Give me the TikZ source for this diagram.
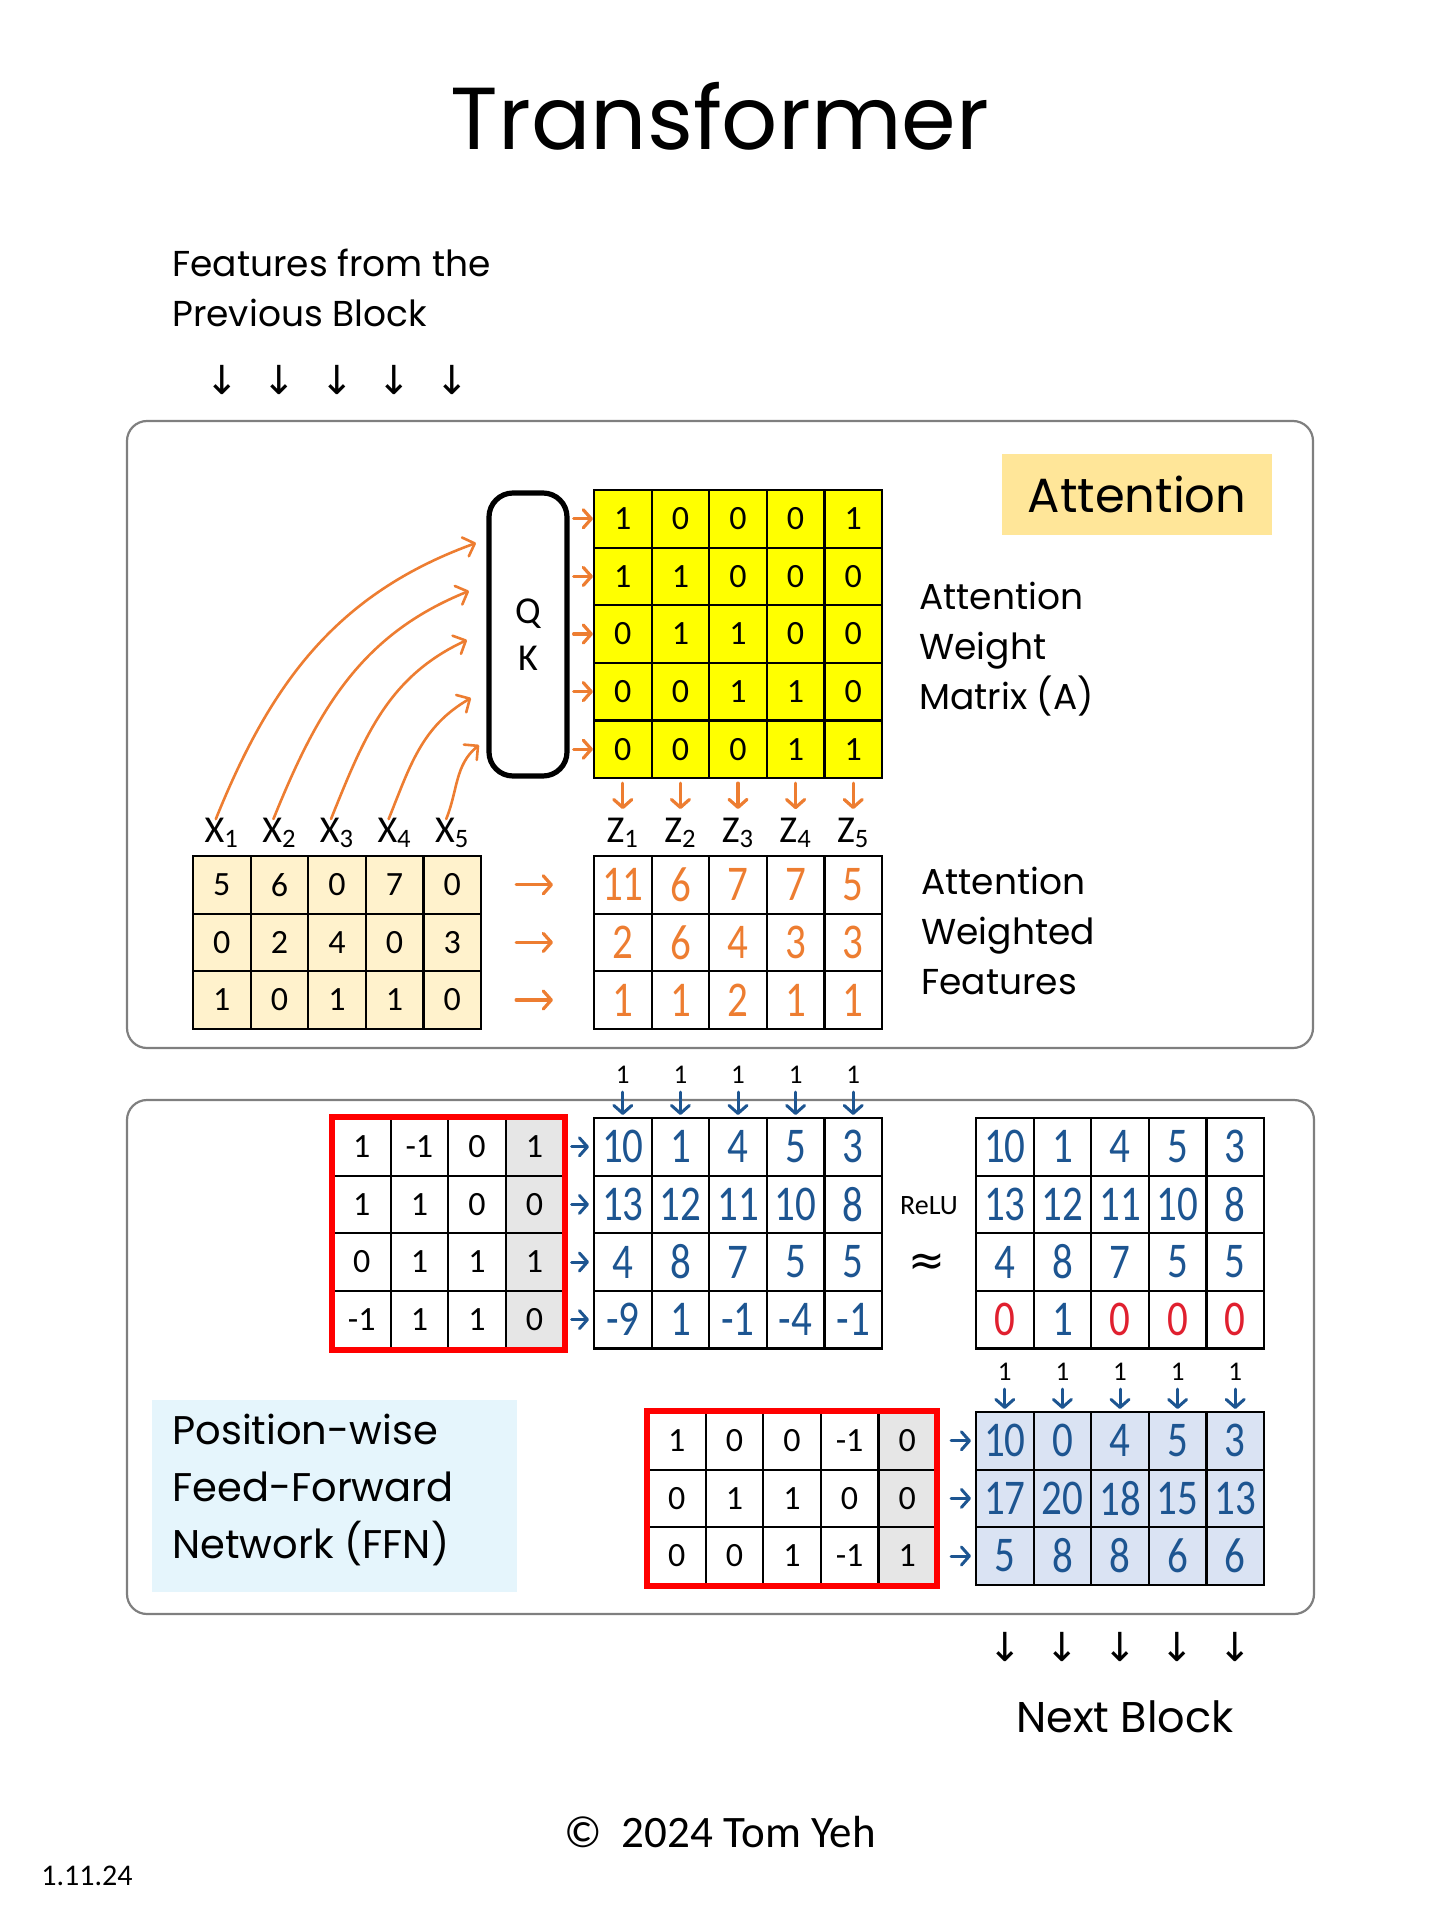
\documentclass[tikz,border=0pt]{standalone}
\usepackage{fontspec}
\setmainfont{Carlito}
\newfontfamily\handfont{Poppins}
\newfontfamily\penfont[FakeStretch=0.82]{Carlito}
\newfontfamily\symfont{DejaVu Sans}
\usetikzlibrary{arrows.meta}

\definecolor{hlyellow}{HTML}{FFFF00}
\definecolor{featbg}{HTML}{FFF2CC}
\definecolor{attnbg}{HTML}{FFE699}
\definecolor{ffnbg}{HTML}{E5F5FC}
\definecolor{outbg}{HTML}{DAE3F3}
\definecolor{biasgray}{HTML}{E6E6E6}
\definecolor{penorange}{HTML}{ED7D31}
\definecolor{penblue}{HTML}{1D5591}
\definecolor{penred}{HTML}{E0202F}
\definecolor{boxgray}{HTML}{7F7F7F}
\newcommand{\rz}{\textcolor{penred}{0}}

\tikzset{
  cell/.style={draw, line width=1.1pt, minimum width=28.8pt, minimum height=28.8pt,
    inner sep=0pt, font=\fontsize{17}{17}\selectfont},
  pen/.style={font=\penfont\fontsize{25}{25}\selectfont},
  lab/.style={font=\fontsize{19}{19}\selectfont},
  hand/.style={font=\handfont\fontsize{18}{25}\selectfont, align=left, inner sep=0pt},
  bias/.style={font=\fontsize{13.5}{13.5}\selectfont, inner sep=1pt},
  down/.style={font=\symfont\fontsize{20}{20}\selectfont},
  oarr/.style={penorange, line width=1.6pt, line cap=round,
    -{Straight Barb[length=4pt,width=9pt,round]}},
  carr/.style={penorange, line width=1.3pt, line cap=round,
    -{Straight Barb[length=5pt,width=10pt,round]}},
  barr/.style={penblue, line width=1.5pt, line cap=round,
    -{Straight Barb[length=4pt,width=9pt,round]}},
  panel/.style={draw=boxgray, line width=1.1pt, rounded corners=10pt},
}

\begin{document}
\begin{tikzpicture}[x=0.5pt,y=0.5pt]
  \useasboundingbox (0,0) rectangle (1440,-1920);

  \node[font=\handfont\fontsize{44}{44}\selectfont] (title) at (720,-116) {Transformer};
  \node[hand, anchor=west] (prev) at (172,-288) {Features from the\\Previous Block};
  \foreach \j in {1,...,5}
    \node[down] (in\j) at ({164.2+57.6*\j},-380) {↓};

  % attention panel
  \draw[panel] (127,-421) rectangle (1313,-1048);
  \node[fill=attnbg, minimum width=135pt, minimum height=40.5pt,
    font=\handfont\fontsize{24}{24}\selectfont] (attn) at (1137,-494.5) {Attention};
  \node[draw, line width=2.6pt, rounded corners=12pt, minimum width=39pt,
    minimum height=141.5pt, align=center, font=\fontsize{19}{23.5}\selectfont]
    (qk) at (528,-634.5) {Q\\K};

  \foreach \row [count=\i] in {{1,0,0,0,1},{1,1,0,0,0},{0,1,1,0,0},{0,0,1,1,0},{0,0,0,1,1}} {
    \foreach \v [count=\j] in \row {
      \node[cell, fill=hlyellow] (a-\i-\j) at ({565.2+57.6*\j},{-461.2-57.6*\i}) {\v};
    }
    \draw[oarr] ([xshift=2pt]qk.east |- a-\i-1) -- (a-\i-1.west);
  }
  \node[hand, anchor=west] (wlab) at (919,-649) {Attention\\Weight\\Matrix (A)};

  \foreach \row [count=\i] in {{5,6,0,7,0},{0,2,4,0,3},{1,0,1,1,0}} {
    \foreach \v [count=\j] in \row {
      \node[cell, fill=featbg] (x-\i-\j) at ({164.2+57.6*\j},{-827.2-57.6*\i}) {\v};
    }
  }
  \foreach \row [count=\i] in {{11,6,7,7,5},{2,6,4,3,3},{1,1,2,1,1}} {
    \foreach \v [count=\j] in \row {
      \node[cell, pen, text=penorange] (z-\i-\j) at ({565.2+57.6*\j},{-827.2-57.6*\i}) {\v};
    }
    \draw[oarr, shorten <=17pt, shorten >=20pt] (x-\i-5.east) -- (z-\i-1.west);
  }
  \foreach \j in {1,...,5} {
    \node[lab] (xl\j) at ({164.2+57.6*\j},-833) {X\textsubscript{\j}};
    \node[lab] (zl\j) at ({565.2+57.6*\j},-833) {Z\textsubscript{\j}};
    \draw[oarr, shorten <=2pt, shorten >=1pt] (a-5-\j.south) -- (zl\j.north);
  }
  \node[hand, anchor=west] (flab) at (921,-931) {Attention\\Weighted\\Features};

  % X to QK
  \coordinate (q1) at (476,-543);
  \coordinate (q2) at (469,-591);
  \coordinate (q3) at (467,-640);
  \coordinate (q4) at (471,-698);
  \coordinate (q5) at (479,-745);
  \foreach \j/\n in {1/200,2/202,3/205,4/210,5/220}
    \draw[carr] ([xshift=-3pt,yshift=-4pt]xl\j.north) to[out=68,in=\n] (q\j);

  % feed-forward panel
  \draw[panel] (127,-1100) rectangle (1314,-1614);
  \node[fill=ffnbg, minimum width=182.5pt, minimum height=96pt] (ffnbox) at (334.5,-1496) {};
  \node[hand, anchor=west, font=\handfont\fontsize{20}{28.5}\selectfont] (ffn) at (172,-1490)
    {Position-wise\\Feed-Forward\\Network (FFN)};

  \foreach \row [count=\i] in {{1,-1,0,1},{1,1,0,0},{0,1,1,1},{-1,1,1,0}} {
    \foreach \v [count=\j] in \row {
      \ifnum\j=4 \def\cf{biasgray}\else\def\cf{white}\fi
      \node[cell, fill=\cf] (w-\i-\j) at ({304.2+57.6*\j},{-1089.2-57.6*\i}) {\v};
    }
  }
  \draw[red, line width=3pt] (w-1-1.north west) rectangle (w-4-4.south east);

  \foreach \row [count=\i] in {{10,1,4,5,3},{13,12,11,10,8},{4,8,7,5,5},{-9,1,-1,-4,-1}} {
    \foreach \v [count=\j] in \row {
      \node[cell, pen, text=penblue] (h-\i-\j) at ({565.2+57.6*\j},{-1089.2-57.6*\i}) {\v};
    }
    \draw[barr, shorten <=3.5pt, shorten >=2pt] (w-\i-4.east) -- (h-\i-1.west);
  }
  \foreach \j in {1,...,5} {
    \node[bias] (hb\j) at ({565.2+57.6*\j},-1075) {1};
    \draw[barr, shorten <=3pt, shorten >=1pt] (hb\j.south) -- (h-1-\j.north);
  }

  \node[font=\fontsize{14}{14}\selectfont] (relu) at (929,-1206) {ReLU};
  \node[font=\symfont\fontsize{22}{22}\selectfont] (approx) at (927,-1265) {≈};

  \foreach \row [count=\i] in {{10,1,4,5,3},{13,12,11,10,8},{4,8,7,5,5},{\rz,1,\rz,\rz,\rz}} {
    \foreach \v [count=\j] in \row {
      \node[cell, pen, text=penblue] (r-\i-\j) at ({947.2+57.6*\j},{-1089.2-57.6*\i}) {\v};
    }
  }

  \foreach \row [count=\i] in {{1,0,0,-1,0},{0,1,1,0,0},{0,0,1,-1,1}} {
    \foreach \v [count=\j] in \row {
      \ifnum\j=5 \def\cf{biasgray}\else\def\cf{white}\fi
      \node[cell, fill=\cf] (v-\i-\j) at ({619.2+57.6*\j},{-1383.2-57.6*\i}) {\v};
    }
  }
  \draw[red, line width=3pt] (v-1-1.north west) rectangle (v-3-5.south east);

  \foreach \row [count=\i] in {{10,0,4,5,3},{17,20,18,15,13},{5,8,8,6,6}} {
    \foreach \v [count=\j] in \row {
      \node[cell, pen, fill=outbg, text=penblue] (o-\i-\j) at ({947.2+57.6*\j},{-1383.2-57.6*\i}) {\v};
    }
    \draw[barr, shorten <=7pt, shorten >=2pt] (v-\i-5.east) -- (o-\i-1.west);
  }
  \foreach \j in {1,...,5} {
    \node[bias] (ob\j) at ({947.2+57.6*\j},-1372) {1};
    \draw[barr, shorten <=3pt, shorten >=1pt] (ob\j.south) -- (o-1-\j.north);
    \node[down] (out\j) at ({947.2+57.6*\j},-1647) {↓};
  }
  \node[font=\handfont\fontsize{21.5}{21.5}\selectfont] (next) at (1125,-1717) {Next Block};

  \node[font=\fontsize{22.5}{22.5}\selectfont] (copy) at (720,-1832) {©\ \ 2024 Tom Yeh};
  \node[font=\fontsize{15}{15}\selectfont] (date) at (87,-1876) {1.11.24};
\end{tikzpicture}
\end{document}
